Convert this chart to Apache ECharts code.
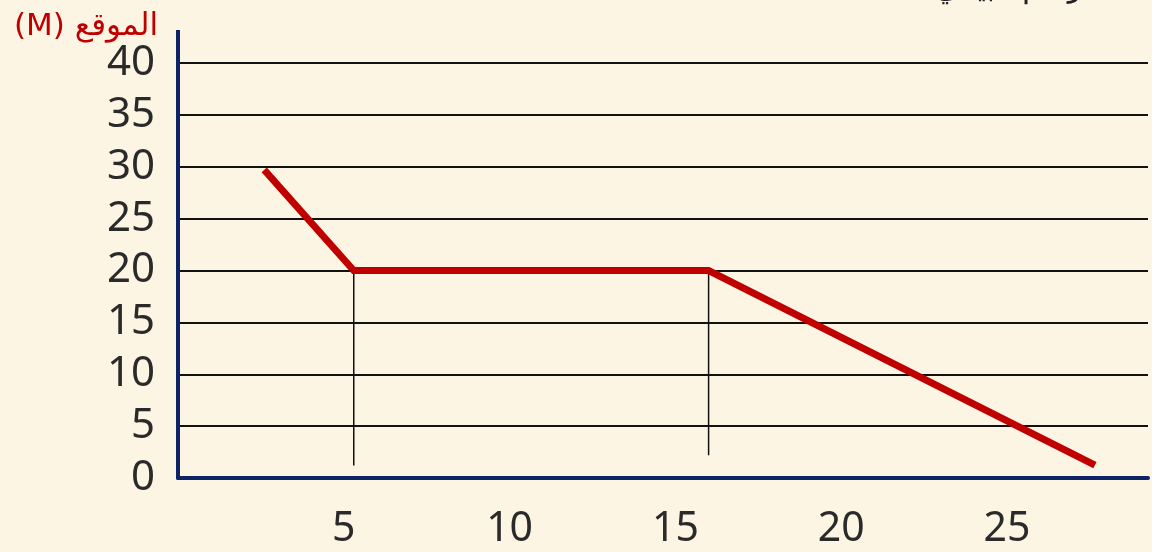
<!DOCTYPE html>
<html>
<head>
<meta charset="utf-8">
<script src="https://cdn.jsdelivr.net/npm/echarts@6/dist/echarts.min.js"></script>
<style>
  html, body { margin: 0; padding: 0; background: #fdf5e4; }
  #chart { width: 1152px; height: 552px; }
</style>
</head>
<body>
<div id="chart"></div>
<script>
// Position (m) against time (s)
const yTicks = [0, 5, 10, 15, 20, 25, 30, 35, 40];
const xTicks = [5, 10, 15, 20, 25];
const motionPath = [[2.6, 29.7], [5.3, 20], [16, 20], [27.65, 1.25]];
const markerAt5 = [[5.3, 20], [5.3, 1.2]];
const markerAt16 = [[16, 20], [16, 2.2]];

const chart = echarts.init(document.getElementById('chart'));
const navy = '#0d2366';
const textFont = '"Noto Sans", "DejaVu Sans", sans-serif';
const RLE = '\u202B', PDF = '\u202C';

chart.setOption({
  backgroundColor: '#fdf5e4',
  animation: false,
  grid: { left: 178, right: 4, top: 63, bottom: 74, containLabel: false },
  title: [
    {
      text: RLE + 'الموقع (M)' + PDF,
      left: 9, top: 6,
      textStyle: { color: '#c00000', fontSize: 31, fontWeight: 'normal', fontFamily: '"DejaVu Sans", sans-serif' }
    },
    {
      text: RLE + 'الرسم البياني' + PDF,
      left: 930, top: -31,
      textStyle: { color: '#222', fontSize: 30, fontWeight: 'normal', fontFamily: '"DejaVu Sans", sans-serif' }
    }
  ],
  xAxis: {
    type: 'value',
    min: 0, max: 29.25, interval: 5,
    axisLine: { show: true, onZero: false, lineStyle: { color: navy, width: 4 } },
    axisTick: { show: false },
    splitLine: { show: false },
    axisLabel: {
      margin: 31,
      fontSize: 41, color: '#2a2a2a', fontFamily: textFont,
      showMinLabel: false, showMaxLabel: false,
      formatter: v => (xTicks.includes(v) ? String(v) : '')
    }
  },
  yAxis: {
    type: 'value',
    min: 0, max: 40, interval: 5,
    axisLine: { show: true, lineStyle: { color: navy, width: 4 } },
    axisTick: { show: false },
    splitLine: { show: true, lineStyle: { color: '#111', width: 2 } },
    axisLabel: {
      margin: 23,
      fontSize: 42, color: '#2a2a2a', fontFamily: textFont,
      formatter: v => (yTicks.includes(v) ? String(v) : '')
    }
  },
  series: [
    {
      type: 'line', data: markerAt5, symbol: 'none', z: 3,
      lineStyle: { color: '#111', width: 1.5 }
    },
    {
      type: 'line', data: markerAt16, symbol: 'none', z: 3,
      lineStyle: { color: '#111', width: 1.5 }
    },
    {
      type: 'line', data: motionPath, symbol: 'none', z: 5,
      lineStyle: { color: '#c00000', width: 7, cap: 'butt', join: 'miter' }
    }
  ]
});

// extend the vertical axis line a little above the top gridline
const top40 = chart.convertToPixel({ gridIndex: 0 }, [0, 40]);
chart.setOption({
  graphic: [{
    type: 'line',
    shape: { x1: top40[0], y1: 30, x2: top40[0], y2: top40[1] },
    style: { stroke: navy, lineWidth: 4 },
    z: 10
  }]
});
</script>
</body>
</html>
